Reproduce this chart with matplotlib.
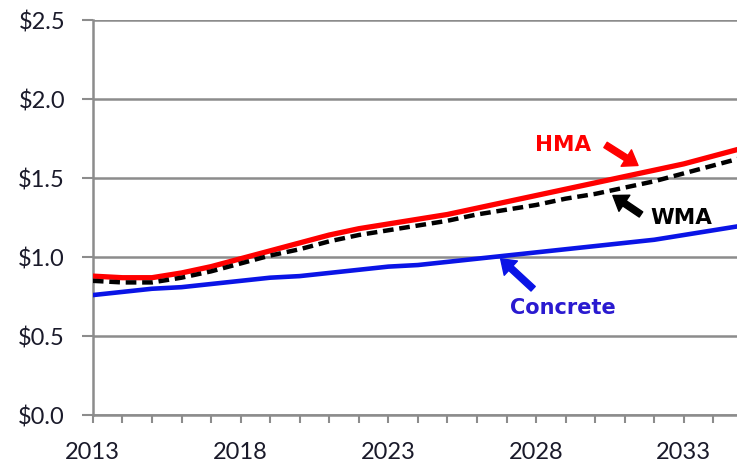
import numpy as np
import matplotlib
matplotlib.use("Agg")
import matplotlib.pyplot as plt
from matplotlib.ticker import MultipleLocator, FuncFormatter

years = np.arange(2013, 2036)
hma = [0.88, 0.87, 0.87, 0.90, 0.94, 0.99, 1.04, 1.09, 1.14, 1.18, 1.21, 1.24,
       1.27, 1.31, 1.35, 1.39, 1.43, 1.47, 1.51, 1.55, 1.59, 1.64, 1.69]
wma = [0.85, 0.84, 0.84, 0.87, 0.91, 0.96, 1.01, 1.05, 1.10, 1.14, 1.17, 1.20,
       1.23, 1.27, 1.30, 1.33, 1.37, 1.40, 1.44, 1.48, 1.53, 1.58, 1.63]
concrete = [0.76, 0.78, 0.80, 0.81, 0.83, 0.85, 0.87, 0.88, 0.90, 0.92, 0.94, 0.95,
            0.97, 0.99, 1.01, 1.03, 1.05, 1.07, 1.09, 1.11, 1.14, 1.17, 1.20]
xticks = [2013, 2018, 2023, 2028, 2033]

plt.rcParams['font.family'] = ['Lato', 'DejaVu Sans']

fig = plt.figure(figsize=(7.37, 4.66), dpi=100)
ax = fig.add_axes([0.126, 0.109, 0.874, 0.848])

ax.plot(years, hma, color='#ff0000', lw=3.8, zorder=3, solid_capstyle='butt')
ax.plot(years, wma, color='black', lw=3.2, ls=(0, (2.4, 1.3)), zorder=4)
ax.plot(years, concrete, color='#0a14e6', lw=3.3, zorder=3)

ax.set_xlim(2013, 2034.8)
ax.set_ylim(0, 2.5)
ax.set_xticks(xticks)
ax.xaxis.set_minor_locator(MultipleLocator(1))
ax.yaxis.set_major_locator(MultipleLocator(0.5))
ax.yaxis.set_major_formatter(FuncFormatter(lambda v, p: f"${v:.1f}"))

ax.grid(axis='y', color='#8c8c8c', lw=1.8, zorder=1)
ax.set_axisbelow(True)
for s in ['top', 'right']:
    ax.spines[s].set_visible(False)
for s in ['left', 'bottom']:
    ax.spines[s].set_color('#8c8c8c')
    ax.spines[s].set_linewidth(1.8)

ax.tick_params(axis='both', which='both', color='#8c8c8c', width=1.5,
               labelsize=17, labelcolor='#1a1a2a', direction='out')
ax.tick_params(axis='x', which='both', length=6, pad=13)
ax.tick_params(axis='y', length=8, pad=12)

# series labels with arrows
arrow = dict(width=4.5, headwidth=14, headlength=10, shrink=0.0)
ax.annotate('', xy=(2031.45, 1.58), xytext=(2030.35, 1.71),
            arrowprops=dict(color='#ff0000', **arrow), zorder=5)
ax.text(2028.9, 1.71, 'HMA', color='#ff0000', fontsize=15.5, fontweight='bold',
        family=['DejaVu Sans'], ha='center', va='center')

ax.annotate('', xy=(2030.6, 1.39), xytext=(2031.55, 1.27),
            arrowprops=dict(color='black', **arrow), zorder=5)
ax.text(2032.9, 1.25, 'WMA', color='black', fontsize=15.5, fontweight='bold',
        family=['DejaVu Sans'], ha='center', va='center')

ax.annotate('', xy=(2026.8, 0.99), xytext=(2027.9, 0.80),
            arrowprops=dict(color='#0a14e6', **arrow), zorder=5)
ax.text(2028.9, 0.68, 'Concrete', color='#2a1ad0', fontsize=15, fontweight='bold',
        family=['DejaVu Sans'], ha='center', va='center')

fig.savefig('out.png', dpi=100)
